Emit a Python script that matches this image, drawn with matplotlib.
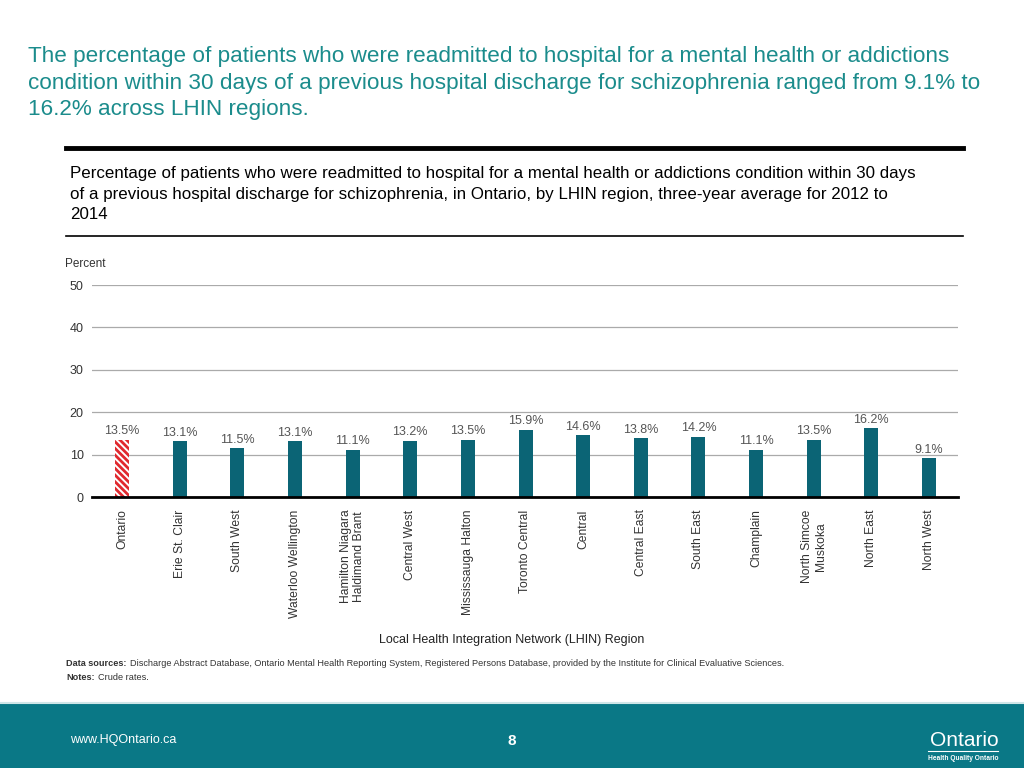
import numpy as np
import matplotlib
matplotlib.use("Agg")
import matplotlib.pyplot as plt

plt.rcParams['font.family'] = ['Liberation Sans', 'DejaVu Sans']
plt.rcParams['hatch.linewidth'] = 2.0

regions = ["Ontario", "Erie St. Clair", "South West", "Waterloo Wellington",
           "Hamilton Niagara\nHaldimand Brant", "Central West", "Mississauga Halton",
           "Toronto Central", "Central", "Central East", "South East", "Champlain",
           "North Simcoe\nMuskoka", "North East", "North West"]
values = [13.5, 13.1, 11.5, 13.1, 11.1, 13.2, 13.5, 15.9, 14.6, 13.8, 14.2, 11.1, 13.5, 16.2, 9.1]
yticks = [0, 10, 20, 30, 40, 50]

teal = "#0b6475"
fig = plt.figure(figsize=(10.24, 7.68), dpi=100)

# header texts
fig.text(28 / 1024, 1 - 83 / 768,
         "The percentage of patients who were readmitted to hospital for a mental health or addictions\n"
         "condition within 30 days of a previous hospital discharge for schizophrenia ranged from 9.1% to\n"
         "16.2% across LHIN regions.",
         color="#1b8c8c", fontsize=16.2, va="center", linespacing=1.37)
fig.add_artist(plt.Line2D([66 / 1024, 963 / 1024], [1 - 148 / 768] * 2, color="black", lw=3.5))
fig.text(70 / 1024, 1 - 194 / 768,
         "Percentage of patients who were readmitted to hospital for a mental health or addictions condition within 30 days\n"
         "of a previous hospital discharge for schizophrenia, in Ontario, by LHIN region, three-year average for 2012 to\n"
         "2014",
         color="black", fontsize=12.2, va="center", linespacing=1.42)
fig.add_artist(plt.Line2D([66 / 1024, 963 / 1024], [1 - 236 / 768] * 2, color="black", lw=1.2))

ax = fig.add_axes([92 / 1024, 1 - 497 / 768, (958 - 92) / 1024, (497 - 285) / 768])
x = np.arange(len(regions))
step = (929 - 122) / (len(regions) - 1)
ax.set_xlim(-30 / step, len(regions) - 1 + 29 / step)
ax.set_ylim(0, 50)

colors = ["white"] + [teal] * (len(regions) - 1)
bars = ax.bar(x, values, width=14 / step, color=colors, zorder=3)
bars[0].set_hatch("\\\\\\\\\\")
bars[0].set_edgecolor("#e0282e")
bars[0].set_linewidth(0)

for xi, v in zip(x, values):
    ax.text(xi, v + 0.6, f"{v}%", ha="center", va="bottom", fontsize=9, color="#555555")

ax.set_yticks(yticks)
ax.set_yticklabels([str(t) for t in yticks], fontsize=9, color="#333333")
ax.yaxis.grid(True, color="#aaaaaa", lw=0.9, zorder=0)
ax.tick_params(axis="y", length=0, pad=6)
ax.set_xticks(x)
ax.set_xticklabels(regions, rotation=90, fontsize=8.7, va="top", ha="center", color="#333333")
ax.tick_params(axis="x", length=0, pad=9)
for s in ["top", "right", "left"]:
    ax.spines[s].set_visible(False)
ax.spines["bottom"].set_linewidth(2)
ax.spines["bottom"].set_zorder(4)
fig.text(65 / 1024, 1 - 264 / 768, "Percent", fontsize=8.5, color="#333333", va="center")
fig.text(512 / 1024, 1 - 640 / 768, "Local Health Integration Network (LHIN) Region",
         ha="center", va="center", fontsize=9, color="#222222")

# sources
fig.canvas.draw()
r = fig.canvas.get_renderer()
t1 = fig.text(66 / 1024, 1 - 664 / 768, "Data sources:", fontsize=6.6, fontweight="bold",
              color="#333333", va="center")
w1 = t1.get_window_extent(r).width
fig.text((66 + w1 + 3) / 1024, 1 - 664 / 768,
         "Discharge Abstract Database, Ontario Mental Health Reporting System, "
         "Registered Persons Database, provided by the Institute for Clinical Evaluative Sciences.",
         fontsize=6.6, color="#333333", va="center")
t2 = fig.text(66 / 1024, 1 - 677 / 768, "Notes:", fontsize=6.6, fontweight="bold",
              color="#333333", va="center")
w2 = t2.get_window_extent(r).width
fig.text((66 + w2 + 3) / 1024, 1 - 677 / 768, "Crude rates.", fontsize=6.6, color="#333333", va="center")

# footer band
band = fig.add_axes([0, 0, 1, 65 / 768])
band.set_facecolor("#0a7886")
band.set_xticks([])
band.set_yticks([])
for s in band.spines.values():
    s.set_visible(False)
fig.add_artist(plt.Line2D([0, 1], [65 / 768] * 2, color="#cfe6e8", lw=1.5))
fig.text(70 / 1024, 1 - 740 / 768, "www.HQOntario.ca", color="white", fontsize=9, va="center")
fig.text(512 / 1024, 1 - 741 / 768, "8", color="white", fontsize=11, fontweight="bold", ha="center", va="center")
fig.text(930 / 1024, 1 - 740 / 768, "Ontario", color="white", fontsize=15, va="center")
fig.add_artist(plt.Line2D([928 / 1024, 998 / 1024], [1 - 751 / 768] * 2, color="white", lw=0.8))
fig.text(963 / 1024, 1 - 758 / 768, "Health Quality Ontario", color="white", fontsize=4.8,
         fontweight="bold", ha="center", va="center")

fig.savefig("out.png", dpi=100, facecolor="white")
